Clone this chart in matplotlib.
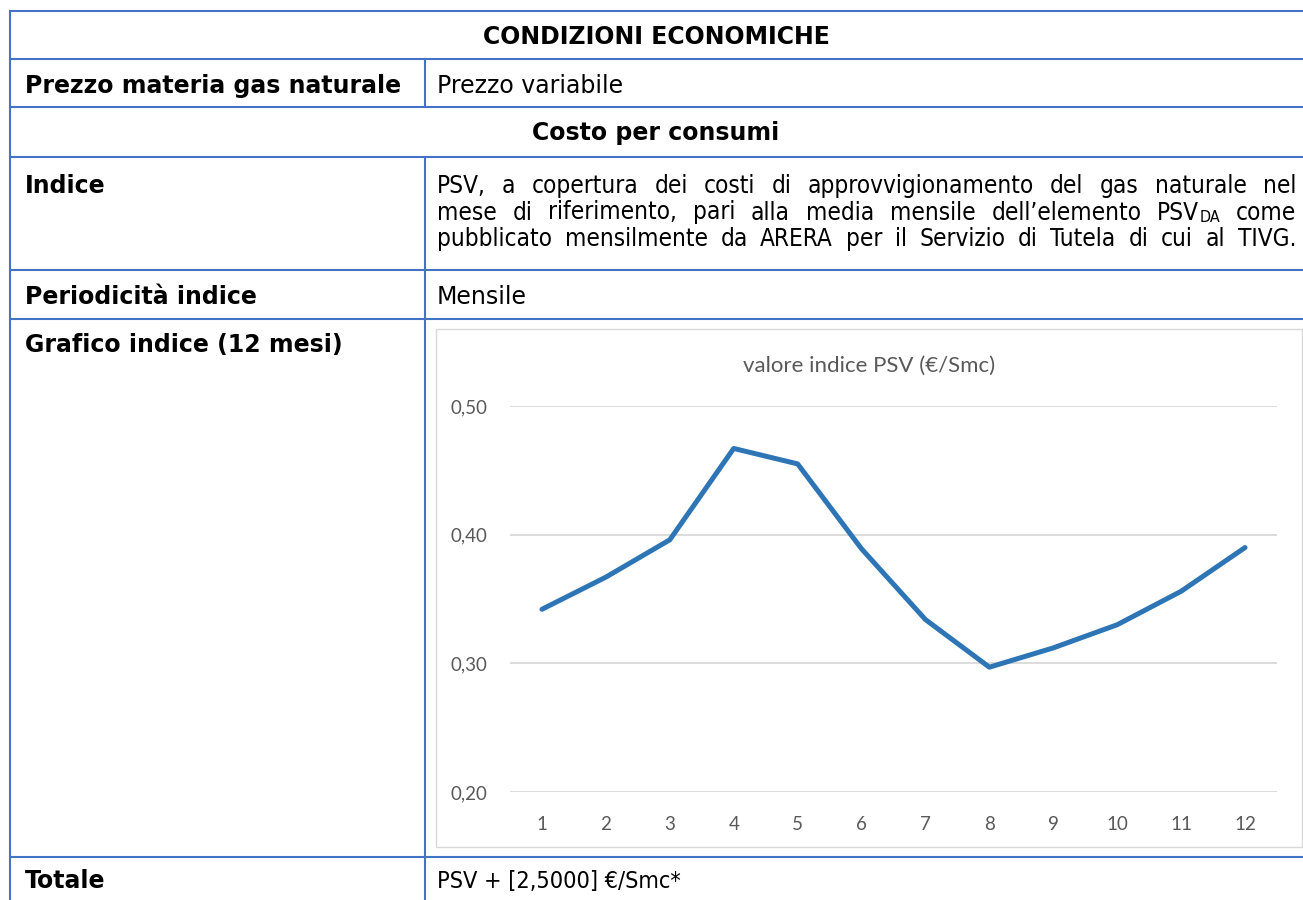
import matplotlib
matplotlib.use("Agg")
import matplotlib.pyplot as plt
from matplotlib import font_manager as fm
from matplotlib.patches import Rectangle

# valori indice PSV (12 mesi)
mesi = list(range(1, 13))
psv = [0.342, 0.367, 0.396, 0.467, 0.455, 0.389, 0.334, 0.297, 0.312, 0.330, 0.356, 0.390]
y_ticks = [0.20, 0.30, 0.40, 0.50]
y_labels = ["0,20", "0,30", "0,40", "0,50"]

titolo_tab = "CONDIZIONI ECONOMICHE"
sottotitolo = "Costo per consumi"
etichette = ["Prezzo materia gas naturale", "Indice", "Periodicità indice",
             "Grafico indice (12 mesi)", "Totale"]
valori = ["Prezzo variabile", "Mensile"]
totale = "PSV + [2,5000] €/Smc*"
paragrafo = [
    "PSV, a copertura dei costi di approvvigionamento del gas naturale nel",
    "mese di riferimento, pari alla media mensile dell’elemento PSV_DA come",
    "pubblicato mensilmente da ARERA per il Servizio di Tutela di cui al TIVG.",
]

BLUE = "#4472C4"
GREY = "#595959"

# font simile a Tahoma: DejaVu Sans Condensed se c'è
cond = [f.fname for f in fm.fontManager.ttflist
        if f.name.startswith("DejaVu Sans") and "Condensed" in f.fname
        and "Bold" not in f.fname and "Oblique" not in f.fname]
if cond:
    fp_par = fm.FontProperties(fname=cond[0], size=17.5)
    fp_sub = fm.FontProperties(fname=cond[0], size=11.5)
    fp_tot = fm.FontProperties(fname=cond[0], size=16.8)
else:
    fp_par = fm.FontProperties(family="DejaVu Sans", size=15.5)
    fp_sub = fm.FontProperties(family="DejaVu Sans", size=10)
    fp_tot = fm.FontProperties(family="DejaVu Sans", size=15)
fp_reg = fm.FontProperties(family="DejaVu Sans", size=17)
fp_bold = fm.FontProperties(family="DejaVu Sans", weight="bold", size=17)

fig = plt.figure(figsize=(13.03, 9), dpi=100)
ax = fig.add_axes([0, 0, 1, 1])
ax.set_xlim(0, 1303)
ax.set_ylim(900, 0)
ax.axis("off")

# griglia della tabella
for y in [11, 59, 107, 157, 270, 319, 857]:
    ax.plot([10, 1303], [y, y], color=BLUE, lw=1.5, solid_capstyle="butt")
ax.plot([10, 10], [11, 900], color=BLUE, lw=1.5)
ax.plot([425, 425], [59, 107], color=BLUE, lw=1.5)
ax.plot([425, 425], [157, 900], color=BLUE, lw=1.5)

# testi
ax.text(656, 44, titolo_tab, fontproperties=fp_bold, ha="center", va="baseline")
ax.text(656, 140, sottotitolo, fontproperties=fp_bold, ha="center", va="baseline")
for lab, yb in zip(etichette, [93, 193, 304, 352, 888]):
    ax.text(25, yb, lab, fontproperties=fp_bold, va="baseline")
for val, yb in zip(valori, [93, 304]):
    ax.text(437, yb, val, fontproperties=fp_reg, va="baseline")
ax.text(437, 888, totale, fontproperties=fp_tot, va="baseline")

# paragrafo giustificato
renderer = fig.canvas.get_renderer()


def larghezza(s, fp):
    t = ax.text(0, 0, s, fontproperties=fp)
    w = t.get_window_extent(renderer).width
    t.remove()
    return w


def riga_giustificata(riga, yb, x0=437, x1=1296):
    parole = []
    for w in riga.split(" "):
        if "_" in w:
            a, b = w.split("_")
            parole.append([(a, False), (b, True)])
        else:
            parole.append([(w, False)])
    larg = [sum(larghezza(s, fp_sub if sm else fp_par) for s, sm in p) for p in parole]
    gap = (x1 - x0 - sum(larg)) / (len(parole) - 1)
    x = x0
    for p, lw in zip(parole, larg):
        xx = x
        for s, sm in p:
            fp = fp_sub if sm else fp_par
            ax.text(xx, yb + (3 if sm else 0), s, fontproperties=fp, va="baseline")
            xx += larghezza(s, fp)
        x += lw + gap


for i, riga in enumerate(paragrafo):
    riga_giustificata(riga, 193 + 26.5 * i)

# cornice del grafico
ax.add_patch(Rectangle((436, 329), 866, 518, fill=False, edgecolor="#D9D9D9", lw=1))
ax.text(869, 366, "valore indice PSV (€/Smc)", family="Lato", fontsize=16,
        color=GREY, ha="center", va="center")

# grafico
ch = fig.add_axes([510 / 1303, 108 / 900, 767 / 1303, 386 / 900])
ch.plot(mesi, psv, color="#2E75B6", lw=3.6, solid_joinstyle="round", solid_capstyle="round")
ch.set_xlim(0.5, 12.5)
ch.set_ylim(0.2, 0.5)
ch.set_yticks(y_ticks)
ch.set_yticklabels(y_labels)
ch.set_xticks(mesi)
ch.set_xticklabels([str(m) for m in mesi])
ch.grid(axis="y", color="#D9D9D9", lw=1.3)
ch.set_axisbelow(True)
for s in ch.spines.values():
    s.set_visible(False)
ch.tick_params(axis="y", length=0, pad=16, labelsize=13.5, labelcolor=GREY)
ch.tick_params(axis="x", length=0, pad=17, labelsize=13.5, labelcolor=GREY)
for lab in ch.get_xticklabels() + ch.get_yticklabels():
    lab.set_family("Lato")
ch.set_facecolor("none")

fig.savefig("out.png", dpi=100)
